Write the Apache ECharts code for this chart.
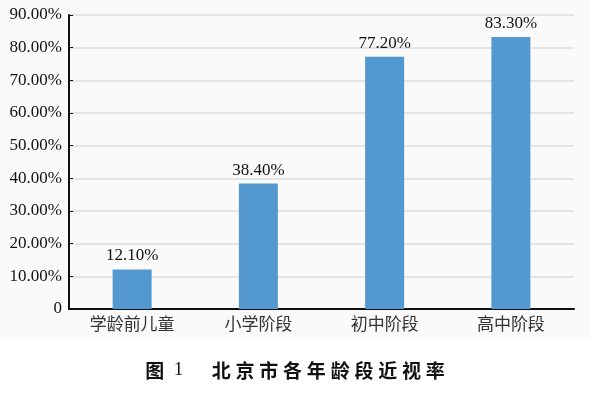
<!DOCTYPE html>
<html><head><meta charset="utf-8">
<script src="https://cdn.jsdelivr.net/npm/echarts@6/dist/echarts.min.js"></script>
<style>html,body{margin:0;padding:0;background:#fff}#c{width:590px;height:394px}</style>
</head><body><div id="c"></div>
<script>
const categories = ['学龄前儿童', '小学阶段', '初中阶段', '高中阶段'];
const values = [12.1, 38.4, 77.2, 83.3];
const yTicks = [0, 10, 20, 30, 40, 50, 60, 70, 80, 90];
const captionLabel = '图';
const captionNum = '1';
const captionText = '北\u2005京\u2005市\u2005各\u2005年\u2005龄\u2005段\u2005近\u2005视\u2005率';

const chart = echarts.init(document.getElementById('c'));
chart.setOption({
  backgroundColor: '#fff',
  animation: false,
  graphic: [{
    type: 'rect', z: -10, silent: true,
    shape: { x: 0, y: 0, width: 590, height: 338 },
    style: { fill: '#fafafa' }
  }],
  title: {
    text: '{a|' + captionLabel + '}\u2002{n|' + captionNum + '}\u2003\u2002{a|' + captionText + '}',
    left: 'center', top: 356,
    textStyle: {
      fontSize: 19, color: '#111',
      rich: {
        a: { fontFamily: 'Noto Sans CJK SC', fontWeight: 'bold', fontSize: 19, color: '#111' },
        n: { fontFamily: 'Liberation Serif', fontWeight: 'normal', fontSize: 19, color: '#111' }
      }
    }
  },
  grid: { left: 69, right: 16, top: 15, bottom: 85, containLabel: false },
  xAxis: {
    type: 'category', data: categories,
    axisLine: { lineStyle: { color: '#111', width: 2 } },
    axisTick: { show: false },
    axisLabel: { fontFamily: 'Noto Sans CJK SC', fontSize: 17, color: '#333', margin: 6 }
  },
  yAxis: {
    type: 'value', min: 0, max: 90, interval: 10,
    axisLine: { show: true, lineStyle: { color: '#111', width: 2 } },
    axisTick: { show: true, inside: true, length: 4, lineStyle: { color: '#111' } },
    splitLine: { lineStyle: { color: '#dcdcdc', width: 1.5 } },
    axisLabel: {
      fontFamily: 'Liberation Serif', fontSize: 17, color: '#111', margin: 7,
      formatter: v => yTicks.includes(v) ? (v === 0 ? '0' : v.toFixed(2) + '%') : ''
    }
  },
  series: [{
    type: 'bar', data: values, barWidth: 39,
    itemStyle: { color: '#5398cf' },
    label: {
      show: true, position: 'top', distance: 5,
      fontFamily: 'Liberation Serif', fontSize: 17, color: '#111',
      formatter: p => p.value.toFixed(2) + '%'
    }
  }]
});
</script></body></html>
